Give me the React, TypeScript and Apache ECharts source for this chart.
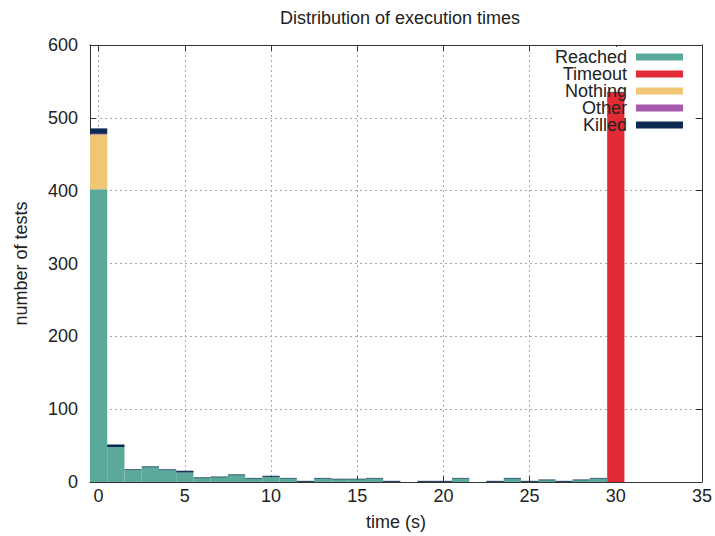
import React, { useEffect, useRef } from "react";
import * as echarts from "echarts";

const bins = [0,1,2,3,4,5,6,7,8,9,10,11,12,13,14,15,16,17,18,19,20,21,22,23,24,25,26,27,28,29,30];
const reached = [402,48,17,21,17,13,6,7,10,5,7,5,0,5,4,4,5,0,0,0,0,5,0,0,5,0,3,0,3,5,0];
const timeout = [0,0,0,0,0,0,0,0,0,0,0,0,0,0,0,0,0,0,0,0,0,0,0,0,0,0,0,0,0,0,535];
const nothing = [75,0,0,0,0,0,0,0,0,0,0,0,0,0,0,0,0,0,0,0,0,0,0,0,0,0,0,0,0,0,0];
const other = [1,0,0,0,0,0,0,0,0,0,0,0,0,0,0,0,0,0,0,0,0,0,0,0,0,0,0,0,0,0,0];
const killed = [7,3,0,0,0,2,0,0,0,0,1,0,1,0,0,0,0,1,0,1,1,0,0,1,0,1,0,1,0,0,0];

const seriesNames = ["Reached", "Timeout", "Nothing", "Other", "Killed"];
const colors = ["#5aa99a", "#e32b36", "#f0c573", "#a55aac", "#0c2a50"];

const xTicks = [0, 5, 10, 15, 20, 25, 30, 35];
const yTicks = [0, 100, 200, 300, 400, 500, 600];

const FONT = "'Liberation Sans', Arial, sans-serif";

export default function App() {
  const ref = useRef<HTMLDivElement>(null);
  useEffect(() => {
    document.body.style.margin = "0";
    if (!ref.current) return;
    const chart = echarts.init(ref.current, null, { renderer: "svg" });
    const data = bins.map((b, i) => [b, reached[i], timeout[i], nothing[i], other[i], killed[i]]);

    const legendTop = 57;
    const legendStep = 17;
    const legendGraphics: any[] = [
      {
        type: "rect",
        z: 1,
        shape: { x: 555, y: 47, width: 140, height: 87 },
        style: { fill: "#ffffff" },
      },
    ];
    seriesNames.forEach((name, i) => {
      const cy = legendTop + i * legendStep;
      legendGraphics.push({
        type: "text",
        z: 100,
        x: 627,
        y: cy,
        style: {
          text: name,
          fill: "#222222",
          font: `18px ${FONT}`,
          align: "right",
          verticalAlign: "middle",
        },
      });
      legendGraphics.push({
        type: "rect",
        z: 100,
        shape: { x: 636, y: cy - 3.5, width: 47, height: 7 },
        style: { fill: colors[i] },
      });
    });

    const axisLineStyle = { color: "#333333", width: 1 };
    const splitLineStyle = { color: "#a8a8a8", width: 1, type: [2, 3] as any };

    const xFormatter = (v: number) => (xTicks.indexOf(v) >= 0 ? String(v) : "");

    chart.setOption({
      animation: false,
      textStyle: { fontFamily: FONT },
      title: {
        text: "Distribution of execution times",
        left: 275,
        top: 4,
        textStyle: { fontSize: 18, fontWeight: "normal", color: "#222222", fontFamily: FONT },
      },
      grid: { left: 90, right: 13, top: 45, bottom: 51, containLabel: false },
      xAxis: [
        {
          type: "value",
          min: -0.5,
          max: 35,
          minInterval: 5,
          maxInterval: 5,
          name: "time (s)",
          nameLocation: "middle",
          nameGap: 31,
          nameTextStyle: { fontSize: 18, color: "#222222", fontFamily: FONT },
          axisLine: { show: true, onZero: false, lineStyle: axisLineStyle },
          axisTick: { show: true, inside: true, length: 6, lineStyle: axisLineStyle },
          axisLabel: {
            show: true,
            showMinLabel: false,
            formatter: xFormatter,
            fontSize: 18,
            color: "#222222",
            margin: 5,
            fontFamily: FONT,
          },
          splitLine: { show: true, showMinLine: false, showMaxLine: false, lineStyle: splitLineStyle },
        },
        {
          type: "value",
          position: "top",
          min: -0.5,
          max: 35,
          minInterval: 5,
          maxInterval: 5,
          axisLine: { show: true, onZero: false, lineStyle: axisLineStyle },
          axisTick: { show: true, inside: true, length: 6, lineStyle: axisLineStyle },
          axisLabel: { show: false },
          splitLine: { show: false },
        },
      ],
      yAxis: [
        {
          type: "value",
          min: yTicks[0],
          max: yTicks[yTicks.length - 1],
          interval: 100,
          name: "number of tests",
          nameLocation: "middle",
          nameGap: 60,
          nameTextStyle: { fontSize: 18, color: "#222222", fontFamily: FONT },
          axisLine: { show: true, onZero: false, lineStyle: axisLineStyle },
          axisTick: { show: true, inside: true, length: 6, lineStyle: axisLineStyle },
          axisLabel: { fontSize: 18, color: "#222222", margin: 12, fontFamily: FONT },
          splitLine: { show: true, showMinLine: false, showMaxLine: false, lineStyle: splitLineStyle },
        },
        {
          type: "value",
          position: "right",
          min: yTicks[0],
          max: yTicks[yTicks.length - 1],
          interval: 100,
          axisLine: { show: true, onZero: false, lineStyle: axisLineStyle },
          axisTick: { show: true, inside: true, length: 6, lineStyle: axisLineStyle },
          axisLabel: { show: false },
          splitLine: { show: false },
        },
      ],
      graphic: legendGraphics,
      series: [
        {
          type: "custom",
          name: "stack",
          xAxisIndex: 0,
          yAxisIndex: 0,
          z: 2,
          data,
          encode: { x: 0, y: 1 },
          renderItem: (params: any, api: any) => {
            const bin = api.value(0);
            const children: any[] = [];
            let base = 0;
            for (let i = 0; i < 5; i++) {
              const v = api.value(i + 1);
              if (v > 0) {
                const p0 = api.coord([bin - 0.5, base]);
                const p1 = api.coord([bin + 0.5, base + v]);
                children.push({
                  type: "rect",
                  shape: { x: p0[0], y: p1[1], width: p1[0] - p0[0], height: p0[1] - p1[1] },
                  style: { fill: colors[i] },
                });
                base += v;
              }
            }
            if (base > 0) {
              const t0 = api.coord([bin - 0.5, base]);
              const t1 = api.coord([bin + 0.5, base]);
              children.push({
                type: "line",
                shape: { x1: t0[0], y1: t0[1], x2: t1[0], y2: t1[1] },
                style: { stroke: colors[4], lineWidth: 1, opacity: 0.65 },
              });
            }
            return { type: "group", children };
          },
        },
      ],
    });
    return () => chart.dispose();
  }, []);
  return <div ref={ref} style={{ width: 715, height: 536 }} />;
}
